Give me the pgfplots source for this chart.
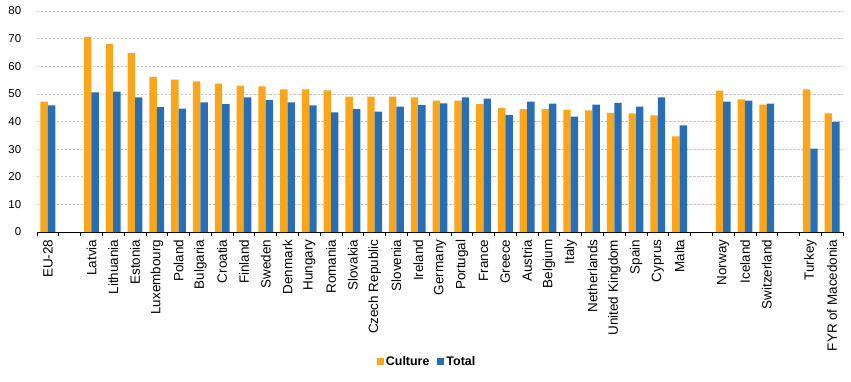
\documentclass[border=0pt]{standalone}
\usepackage{pgfplots}
\pgfplotsset{compat=1.18}
\usepackage{fontspec}
\setmainfont{Liberation Sans}
\definecolor{cult}{RGB}{250,165,26}
\definecolor{tot}{RGB}{40,110,180}
\begin{document}
\begin{tikzpicture}
\useasboundingbox (-37bp,-150bp) rectangle (814bp,232bp);
\begin{axis}[
  scale only axis, width=806bp, height=221bp,
  xmin=-0.5, xmax=36.5, ymin=0, ymax=80,
  ytick={0,10,...,80},
  ymajorgrids,
  major grid style={draw=gray!45, dash pattern=on 2.5bp off 1.5bp, line width=0.7bp},
  axis x line*=bottom, axis y line*=left,
  y axis line style={draw=none},
  x axis line style={black, line width=0.8bp, -},
  ytick style={draw=none},
  major x tick style={draw=none},
  minor x tick style={black, line width=0.7bp},
  minor tick length=4bp,
  tick align=outside,
  xtick={0,2,3,4,5,6,7,8,9,10,11,12,13,14,15,16,17,18,19,20,21,22,23,24,25,26,27,28,29,31,32,33,35,36},
  xticklabels={EU-28,Latvia,Lithuania,Estonia,Luxembourg,Poland,Bulgaria,Croatia,Finland,Sweden,Denmark,Hungary,Romania,Slovakia,Czech Republic,Slovenia,Ireland,Germany,Portugal,France,Greece,Austria,Belgium,Italy,Netherlands,United Kingdom,Spain,Cyprus,Malta,Norway,Iceland,Switzerland,Turkey,FYR of Macedonia},
  minor xtick={-0.5,0.5,...,36.5},
  xticklabel style={rotate=90, anchor=east, font=\fontsize{13.5}{14}\selectfont},
  yticklabel style={font=\fontsize{11.5}{12}\selectfont, xshift=-8bp},
  /pgf/number format/assume math mode=true,
  ybar=0pt, bar width=7.4bp,
  legend style={at={(0.484,-0.585)}, anchor=center, draw=none, legend columns=2,
    font=\fontsize{12.5}{14}\selectfont\bfseries,
    /tikz/every even column/.append style={column sep=6bp}},
  legend image code/.code={\fill[#1] (0bp,-3.5bp) rectangle (7bp,3.5bp);},
]
\addplot[fill=cult, draw=none] coordinates {
(0,47.2) (2,70.6) (3,68.1) (4,64.8) (5,56.1) (6,55.2) (7,54.5) (8,53.7) (9,52.9) (10,52.7) (11,51.6)
(12,51.6) (13,51.3) (14,49.0) (15,49.0) (16,49.0) (17,48.7) (18,47.6) (19,47.6) (20,46.3) (21,44.8)
(22,44.5) (23,44.5) (24,44.3) (25,44.0) (26,43.1) (27,42.9) (28,42.2) (29,34.6)
(31,51.2) (32,48.0) (33,46.1) (35,51.6) (36,42.9)};
\addplot[fill=tot, draw=none] coordinates {
(0,45.8) (2,50.5) (3,50.8) (4,48.7) (5,45.2) (6,44.7) (7,46.9) (8,46.3) (9,48.7) (10,47.7) (11,46.9)
(12,45.8) (13,43.3) (14,44.5) (15,43.6) (16,45.4) (17,45.9) (18,46.6) (19,48.7) (20,48.3) (21,42.3)
(22,47.2) (23,46.5) (24,41.8) (25,46.1) (26,46.7) (27,45.4) (28,48.7) (29,38.6)
(31,47.2) (32,47.6) (33,46.5) (35,30.2) (36,39.9)};
\legend{Culture,Total}
\end{axis}
\end{tikzpicture}
\end{document}
